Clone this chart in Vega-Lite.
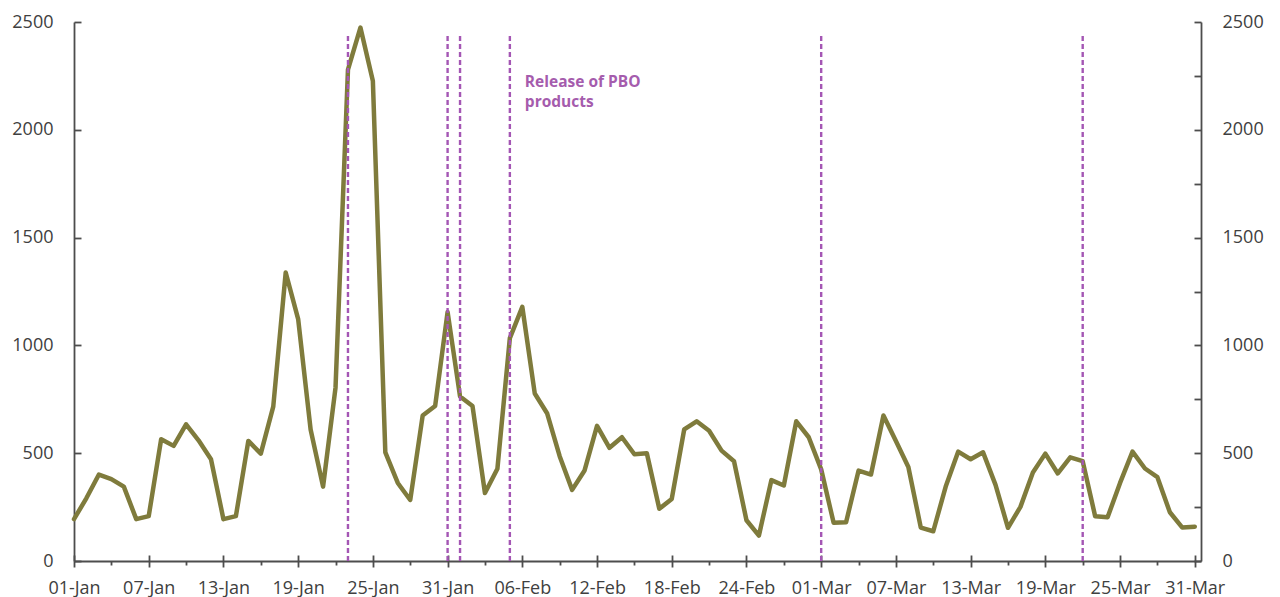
{
  "$schema": "https://vega.github.io/schema/vega-lite/v6.json",
  "width": 1127,
  "height": 539,
  "autosize": {"type": "none"},
  "padding": {"left": 74, "top": 22, "right": 79, "bottom": 36},
  "background": "white",
  "config": {
    "view": {"stroke": null},
    "axis": {
      "grid": false,
      "labelFont": "Open Sans",
      "labelFontSize": 18,
      "labelColor": "#404040",
      "domainColor": "#4d4d4d",
      "domainWidth": 1.8,
      "tickColor": "#4d4d4d",
      "tickWidth": 1.8,
      "title": null
    }
  },
  "datasets": {
    "sales": [
      {"date": "2020-01-01", "value": 194}, {"date": "2020-01-02", "value": 292},
      {"date": "2020-01-03", "value": 401}, {"date": "2020-01-04", "value": 380},
      {"date": "2020-01-05", "value": 345}, {"date": "2020-01-06", "value": 194},
      {"date": "2020-01-07", "value": 208}, {"date": "2020-01-08", "value": 565},
      {"date": "2020-01-09", "value": 534}, {"date": "2020-01-10", "value": 634},
      {"date": "2020-01-11", "value": 560}, {"date": "2020-01-12", "value": 472},
      {"date": "2020-01-13", "value": 194}, {"date": "2020-01-14", "value": 208},
      {"date": "2020-01-15", "value": 557}, {"date": "2020-01-16", "value": 498},
      {"date": "2020-01-17", "value": 716}, {"date": "2020-01-18", "value": 1338},
      {"date": "2020-01-19", "value": 1122}, {"date": "2020-01-20", "value": 610},
      {"date": "2020-01-21", "value": 345}, {"date": "2020-01-22", "value": 804},
      {"date": "2020-01-23", "value": 2279}, {"date": "2020-01-24", "value": 2474},
      {"date": "2020-01-25", "value": 2226}, {"date": "2020-01-26", "value": 504},
      {"date": "2020-01-27", "value": 362}, {"date": "2020-01-28", "value": 283},
      {"date": "2020-01-29", "value": 675}, {"date": "2020-01-30", "value": 719},
      {"date": "2020-01-31", "value": 1155}, {"date": "2020-02-01", "value": 763},
      {"date": "2020-02-02", "value": 719}, {"date": "2020-02-03", "value": 315},
      {"date": "2020-02-04", "value": 428}, {"date": "2020-02-05", "value": 1034},
      {"date": "2020-02-06", "value": 1179}, {"date": "2020-02-07", "value": 777},
      {"date": "2020-02-08", "value": 684}, {"date": "2020-02-09", "value": 486},
      {"date": "2020-02-10", "value": 330}, {"date": "2020-02-11", "value": 420},
      {"date": "2020-02-12", "value": 627}, {"date": "2020-02-13", "value": 525},
      {"date": "2020-02-14", "value": 574}, {"date": "2020-02-15", "value": 495},
      {"date": "2020-02-16", "value": 500}, {"date": "2020-02-17", "value": 242},
      {"date": "2020-02-18", "value": 288}, {"date": "2020-02-19", "value": 610},
      {"date": "2020-02-20", "value": 648}, {"date": "2020-02-21", "value": 604},
      {"date": "2020-02-22", "value": 512}, {"date": "2020-02-23", "value": 463},
      {"date": "2020-02-24", "value": 189}, {"date": "2020-02-25", "value": 118},
      {"date": "2020-02-26", "value": 375}, {"date": "2020-02-27", "value": 350},
      {"date": "2020-02-28", "value": 648}, {"date": "2020-02-29", "value": 574},
      {"date": "2020-03-01", "value": 425}, {"date": "2020-03-02", "value": 177},
      {"date": "2020-03-03", "value": 180}, {"date": "2020-03-04", "value": 419},
      {"date": "2020-03-05", "value": 401}, {"date": "2020-03-06", "value": 675},
      {"date": "2020-03-07", "value": 557}, {"date": "2020-03-08", "value": 436},
      {"date": "2020-03-09", "value": 155}, {"date": "2020-03-10", "value": 138},
      {"date": "2020-03-11", "value": 345}, {"date": "2020-03-12", "value": 507},
      {"date": "2020-03-13", "value": 472}, {"date": "2020-03-14", "value": 504},
      {"date": "2020-03-15", "value": 353}, {"date": "2020-03-16", "value": 154},
      {"date": "2020-03-17", "value": 251}, {"date": "2020-03-18", "value": 410},
      {"date": "2020-03-19", "value": 498}, {"date": "2020-03-20", "value": 406},
      {"date": "2020-03-21", "value": 481}, {"date": "2020-03-22", "value": 463},
      {"date": "2020-03-23", "value": 208}, {"date": "2020-03-24", "value": 203},
      {"date": "2020-03-25", "value": 362}, {"date": "2020-03-26", "value": 507},
      {"date": "2020-03-27", "value": 429}, {"date": "2020-03-28", "value": 389},
      {"date": "2020-03-29", "value": 226}, {"date": "2020-03-30", "value": 155},
      {"date": "2020-03-31", "value": 159}
    ],
    "events": [
      {"date": "2020-01-23"}, {"date": "2020-01-31"}, {"date": "2020-02-01"},
      {"date": "2020-02-05"}, {"date": "2020-03-01"}, {"date": "2020-03-22"}
    ],
    "notes": [
      {"date": "2020-02-05", "label": ["Release of PBO", "products"]}
    ]
  },
  "layer": [
    {
      "data": {"name": "sales"},
      "mark": {"type": "line", "color": "#7f7b3c", "strokeWidth": 4.5, "strokeJoin": "round", "strokeCap": "round"},
      "encoding": {
        "x": {
          "field": "date",
          "type": "temporal",
          "scale": {
            "type": "utc",
            "domain": [
              {"year": 2020, "month": 1, "date": 1, "utc": true},
              {"year": 2020, "month": 3, "date": 31, "hours": 12, "utc": true}
            ]
          },
          "axis": {
            "orient": "bottom",
            "values": {"expr": "utcSequence('day', utc(2020,0,1), utc(2020,3,1), 3)"},
            "labelExpr": "(datum.value - utc(2020,0,1)) % 518400000 == 0 ? utcFormat(datum.value, '%d-%b') : ''",
            "tickSize": {"condition": {"test": "(datum.value - utc(2020,0,1)) % 518400000 == 0", "value": 6}, "value": 4},
            "labelPadding": 12,
            "labelFlush": false,
            "labelOverlap": false
          }
        },
        "y": {
          "field": "value",
          "type": "quantitative",
          "scale": {"domain": [0, 2500], "nice": false},
          "axis": {
            "orient": "right",
            "values": [0, 250, 500, 750, 1000, 1250, 1500, 1750, 2000, 2250, 2500],
            "labelExpr": "datum.value % 500 == 0 ? datum.label : ''",
            "format": "d",
            "tickSize": -7,
            "labelPadding": 28,
            "labelAlign": "left"
          }
        }
      }
    },
    {
      "data": {"name": "events"},
      "mark": {"type": "rule", "color": "#a456b4", "strokeWidth": 2.4, "strokeDash": [5, 3]},
      "encoding": {
        "x": {
          "field": "date",
          "type": "temporal",
          "axis": {
            "orient": "bottom",
            "values": {"expr": "utcSequence('day', utc(2020,0,1), utc(2020,3,1), 6)"},
            "labels": false,
            "domain": false,
            "tickSize": -6
          }
        },
        "y": {
          "datum": 0,
          "type": "quantitative",
          "axis": {
            "orient": "left",
            "values": [0, 500, 1000, 1500, 2000, 2500],
            "format": "d",
            "tickSize": -7,
            "labelPadding": 28
          }
        },
        "y2": {"datum": 2440}
      }
    },
    {
      "data": {"name": "notes"},
      "mark": {
        "type": "text",
        "align": "left",
        "baseline": "alphabetic",
        "dx": 15,
        "font": "Open Sans",
        "fontSize": 15.5,
        "fontWeight": "bold",
        "lineHeight": 20,
        "color": "#a55cad"
      },
      "encoding": {
        "x": {"field": "date", "type": "temporal", "axis": null},
        "y": {"datum": 2198, "type": "quantitative", "axis": null},
        "text": {"field": "label"}
      }
    }
  ],
  "resolve": {"axis": {"x": "independent", "y": "independent"}}
}
